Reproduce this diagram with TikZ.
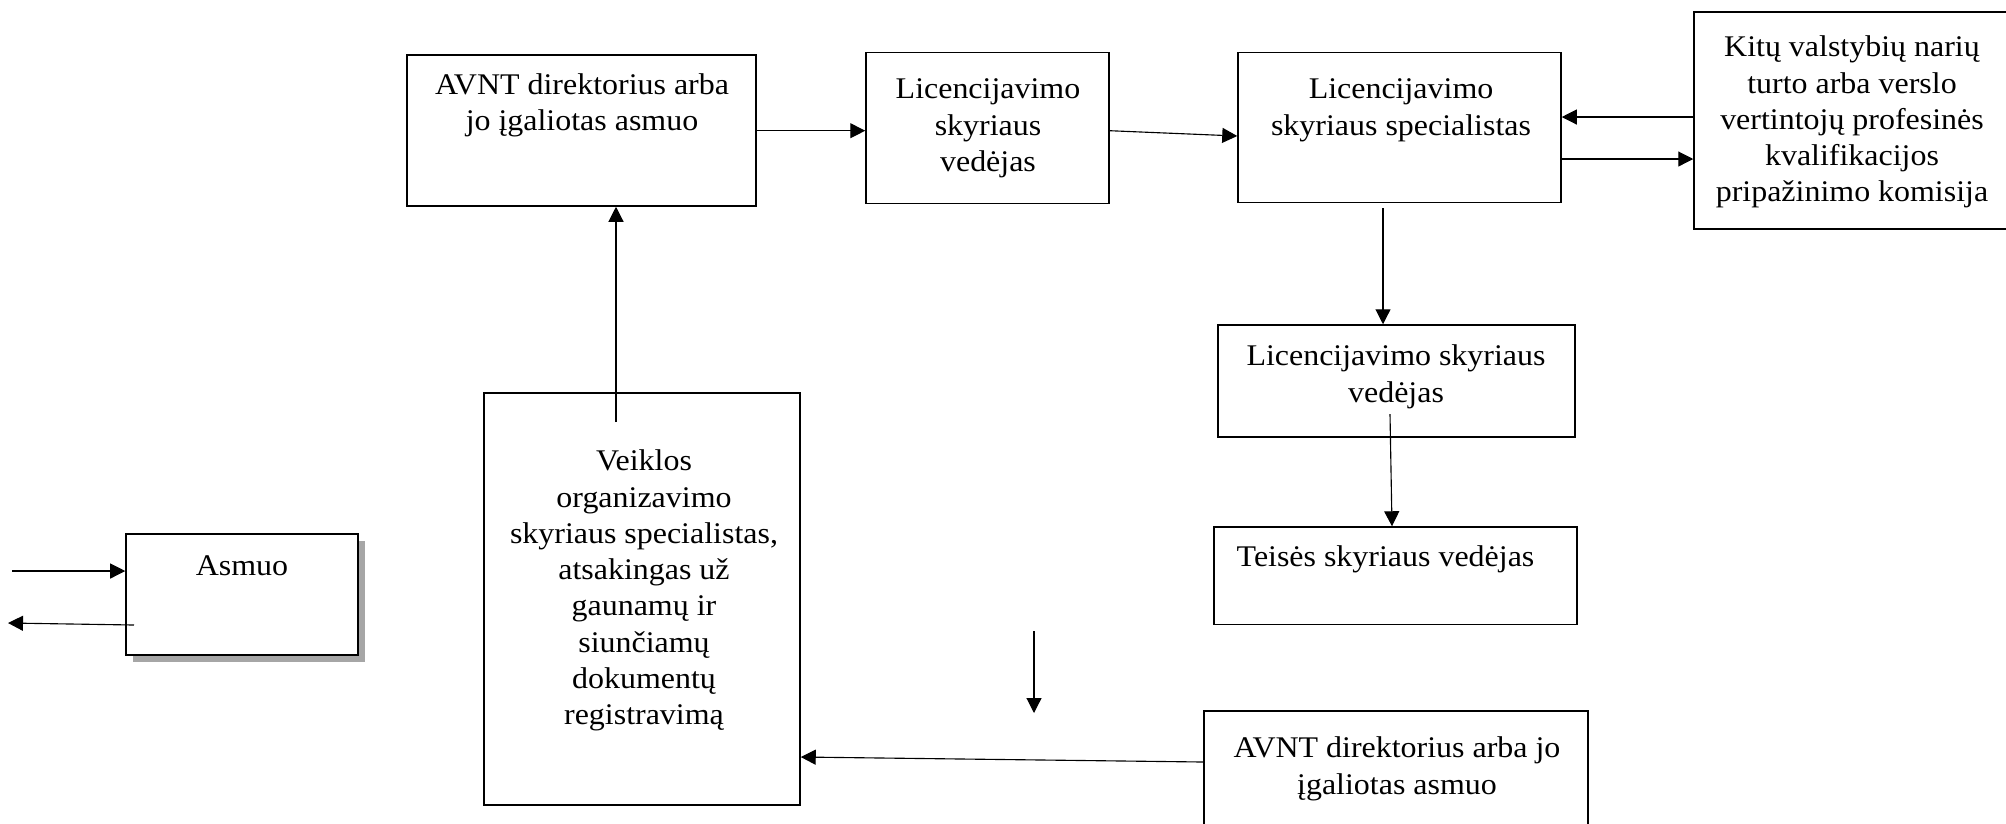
\documentclass[tikz,border=0pt]{standalone}
\usepackage{fontspec}
\setmainfont{Liberation Serif}[FakeStretch=1.065]
\usetikzlibrary{arrows.meta,shadows}

\begin{document}
\begin{tikzpicture}[x=0.4pt, y=-0.4pt,
    box/.style={draw, line width=0.6pt, inner sep=0pt},
    txt/.style={anchor=north, align=center, inner sep=0pt, font=\fontsize{12}{14.5}\selectfont},
    arr/.style={-{Triangle[length=6pt,width=6pt]}, line width=0.45pt}]
    \useasboundingbox (0,0) rectangle (2006,823);
    \node[box, minimum width=139.6pt, minimum height=60.4pt] (a) at (581.5,130.5) {};
    \node[box, minimum width=97.2pt, minimum height=60.4pt] (b) at (987.5,128) {};
    \node[box, minimum width=129.2pt, minimum height=60pt] (c) at (1399.5,127.5) {};
    \node[box, minimum width=126.4pt, minimum height=86.8pt] (d) at (1852,120.5) {};
    \node[box, minimum width=142.8pt, minimum height=44.8pt] (e) at (1396.5,381) {};
    \node[box, minimum width=145.2pt, minimum height=39pt] (f) at (1395.5,575.75) {};
    \node[box, minimum width=126.4pt, minimum height=164.8pt] (g) at (642,599) {};
    \node[box, fill=white, minimum width=92.8pt, minimum height=48.4pt,
        drop shadow={shadow xshift=2.6pt, shadow yshift=-2.6pt, fill=black, opacity=0.35}] (h) at (242,594.5) {};
    \node[box, minimum width=153.6pt, minimum height=67.6pt] (i) at (1396,795.5) {};
    \node[txt] (at) at (582,68.5) {\strut AVNT direktorius arba\\jo įgaliotas asmuo};
    \node[txt] (bt) at (988,73) {\strut Licencijavimo\\skyriaus\\vedėjas};
    \node[txt] (ct) at (1401,73) {\strut Licencijavimo\\skyriaus specialistas};
    \node[txt] (dt) at (1852,31) {\strut Kitų valstybių narių\\turto arba verslo\\vertintojų profesinės\\kvalifikacijos\\pripažinimo komisija};
    \node[txt] (et) at (1396,340) {\strut Licencijavimo skyriaus\\vedėjas};
    \node[txt] (ft) at (1385.5,541) {\strut Teisės skyriaus vedėjas};
    \node[txt] (gt) at (644,445) {\strut Veiklos\\organizavimo\\skyriaus specialistas,\\atsakingas už\\gaunamų ir\\siunčiamų\\dokumentų\\registravimą};
    \node[txt] (ht) at (242,550) {\strut Asmuo};
    \node[txt] (it) at (1397,732) {\strut AVNT direktorius arba jo\\įgaliotas asmuo};
    \coordinate (ef) at (1390,414);
    \coordinate (ga) at (616,422);
    \coordinate (l1) at (1034,631);
    \coordinate (l2) at (1034,713);
    \coordinate (hin) at (12,571);
    \coordinate (hout) at (134,625);
    \coordinate (hend) at (8,623);
    \draw[arr] (a.east |- 0,130.7) -- (b.west |- 0,130.7);
    \draw[arr] (b.east |- 0,130.7) -- (c.west |- 0,136);
    \draw[arr] (d.west |- 0,117) -- (c.east |- 0,117);
    \draw[arr] (c.east |- 0,159) -- (d.west |- 0,159);
    \draw[arr] (1383,208) -- (e.north -| 1383,0);
    \draw[arr] (ef) -- (f.north -| 1392,0);
    \draw[arr] (ga) -- (a.south -| 616,0);
    \draw[arr] (l1) -- (l2);
    \draw[arr] (i.west |- 0,762) -- (g.east |- 0,757);
    \draw[arr] (hin) -- (h.west |- hin);
    \draw[arr] (hout) -- (hend);
\end{tikzpicture}
\end{document}
